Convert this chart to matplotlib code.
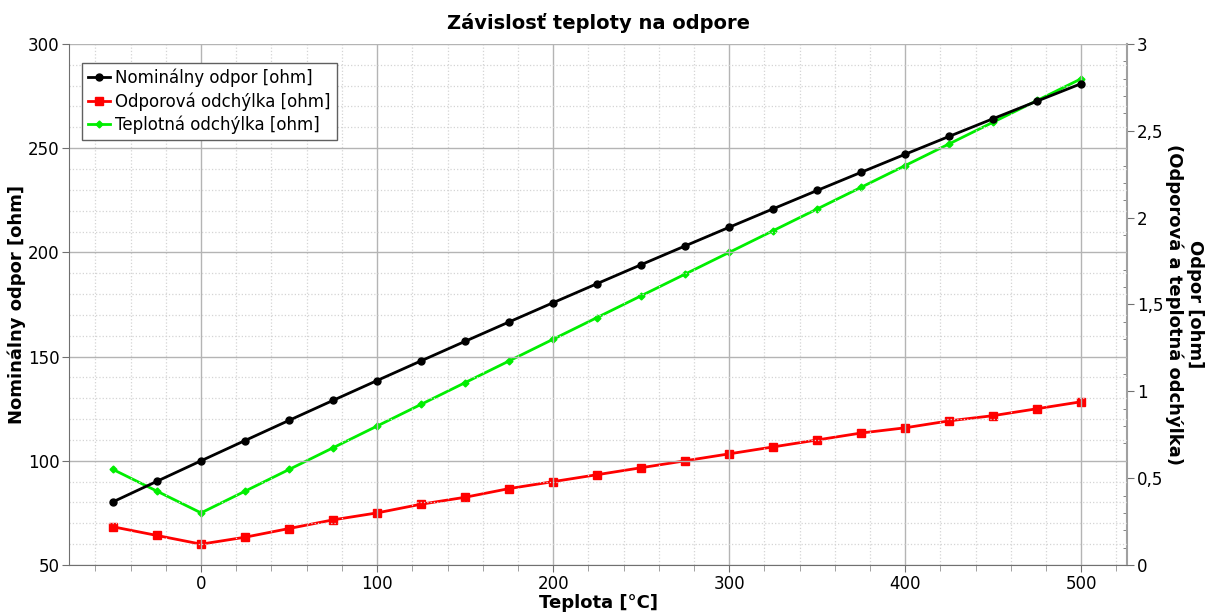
import numpy as np
import matplotlib
matplotlib.use('Agg')
import matplotlib.pyplot as plt
from matplotlib.ticker import MultipleLocator, FuncFormatter

# data
teplota = [-50, -25, 0, 25, 50, 75, 100, 125, 150, 175, 200, 225, 250,
           275, 300, 325, 350, 375, 400, 425, 450, 475, 500]
nominalny = [80.31, 90.19, 100.0, 109.73, 119.40, 128.99, 138.51, 147.95,
             157.33, 166.63, 175.86, 185.01, 194.10, 203.11, 212.05, 220.92,
             229.72, 238.44, 247.09, 255.67, 264.18, 272.61, 280.98]
odporova = [0.22, 0.17, 0.12, 0.16, 0.21, 0.26, 0.30, 0.35, 0.39, 0.44, 0.48,
            0.52, 0.56, 0.60, 0.64, 0.68, 0.72, 0.76, 0.79, 0.83, 0.86, 0.90, 0.94]
teplotna = [0.55, 0.425, 0.30, 0.425, 0.55, 0.675, 0.80, 0.925, 1.05, 1.175,
            1.30, 1.425, 1.55, 1.675, 1.80, 1.925, 2.05, 2.175, 2.30, 2.425,
            2.55, 2.675, 2.80]

plt.rcParams['font.family'] = ['DejaVu Sans']

fig = plt.figure(figsize=(12.15, 6.15), dpi=100)
ax = fig.add_axes([0.0568, 0.0813, 0.8708, 0.8472])
ax2 = ax.twinx()

ax.set_xlim(-75, 526)
ax.set_ylim(50, 300)
ax2.set_ylim(0, 3)

ax.xaxis.set_major_locator(MultipleLocator(100))
ax.xaxis.set_minor_locator(MultipleLocator(20))
ax.yaxis.set_major_locator(MultipleLocator(50))
ax.yaxis.set_minor_locator(MultipleLocator(10))
ax2.yaxis.set_major_locator(MultipleLocator(0.5))
ax2.yaxis.set_minor_locator(MultipleLocator(0.1))
ax2.yaxis.set_major_formatter(FuncFormatter(lambda v, p: ('%g' % v).replace('.', ',')))

ax.grid(which='major', color='#b4b4b4', lw=1.0, ls='-')
ax.grid(which='minor', color='#d4d4d4', lw=0.9, ls=':')
ax.set_axisbelow(True)

l1, = ax.plot(teplota, nominalny, color='black', lw=2, marker='o', ms=5,
              label='Nominálny odpor [ohm]', zorder=3)
l2, = ax2.plot(teplota, odporova, color='#ff0000', lw=2, marker='s', ms=6,
               label='Odporová odchýlka [ohm]', zorder=3)
l3, = ax2.plot(teplota, teplotna, color='#00ee00', lw=2, marker='D', ms=3.5,
               label='Teplotná odchýlka [ohm]', zorder=3)

for s in ['top', 'right']:
    ax.spines[s].set_visible(False)
ax2.spines['top'].set_visible(False)
ax2.spines['left'].set_visible(False)
ax2.spines['bottom'].set_visible(False)
ax.spines['left'].set_color('#707070')
ax.spines['bottom'].set_color('#707070')
ax2.spines['right'].set_color('#a0a0a0')
ax2.spines['right'].set_linewidth(1.5)

ax.tick_params(which='major', length=5, color='#707070', labelsize=12, pad=2)
ax.tick_params(axis='y', which='minor', length=0)
ax.tick_params(axis='x', which='minor', length=4, color='#909090')
ax2.tick_params(which='major', length=5, color='#707070', labelsize=12, pad=2)
ax2.tick_params(which='minor', length=3, color='#707070', direction='in')

ax.set_title('Závislosť teploty na odpore', fontsize=14, fontweight='bold', pad=11)
ax.set_xlabel('Teplota [°C]', fontsize=13, fontweight='bold', labelpad=1)
ax.set_ylabel('Nominálny odpor [ohm]', fontsize=13, fontweight='bold', labelpad=1)
ax2.set_ylabel('Odpor [ohm]\n(Odporová a teplotná odchýlka)', fontsize=13,
               fontweight='bold', rotation=-90, va='bottom', multialignment='center',
               labelpad=1)

ax.set_zorder(ax2.get_zorder() + 1)
ax.patch.set_visible(False)

leg = ax.legend(handles=[l1, l2, l3], loc='upper left', bbox_to_anchor=(0.0123, 0.9635),
                borderaxespad=0, fontsize=12, frameon=True, fancybox=False,
                edgecolor='#606060', framealpha=1, handlelength=1.3,
                handletextpad=0.35, borderpad=0.35, labelspacing=0.3)
leg.get_frame().set_linewidth(1.0)

fig.savefig('out.png', dpi=100)
